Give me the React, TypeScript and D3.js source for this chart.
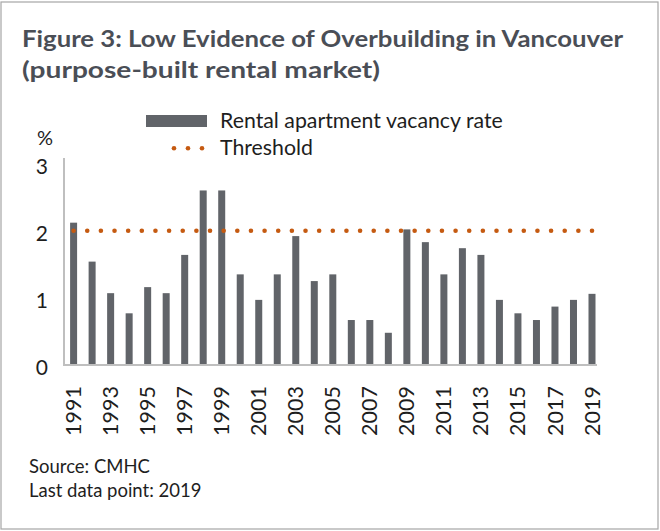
import React from 'react';
import * as d3 from 'd3';

const years = [
  1991, 1992, 1993, 1994, 1995, 1996, 1997, 1998, 1999, 2000,
  2001, 2002, 2003, 2004, 2005, 2006, 2007, 2008, 2009, 2010,
  2011, 2012, 2013, 2014, 2015, 2016, 2017, 2018, 2019,
];
// vacancy rate, %
const vacancy = [
  2.12, 1.54, 1.07, 0.77, 1.16, 1.07, 1.64, 2.6, 2.6, 1.35,
  0.97, 1.35, 1.92, 1.25, 1.35, 0.67, 0.67, 0.48, 2.02, 1.83,
  1.35, 1.74, 1.64, 0.97, 0.77, 0.67, 0.87, 0.97, 1.06,
];
const threshold = 2;
const yTicks = [0, 1, 2, 3];
const xLabelYears = years.filter((y, i) => i % 2 === 0);

const W = 660;
const H = 531;
const FONT = 'Lato, "Open Sans", sans-serif';
const BAR = '#616469';
const AXIS = '#BFBFBF';
const DOT = '#C55A11';
const TEXT = '#1e1e1e';

const App = () => {
  const x = d3.scalePoint<number>().domain(years).range([73.6, 592]);
  const y = d3.scaleLinear().domain([0, 3]).range([365, 163.6]);
  const barW = 7;

  const x0 = x(years[0]) as number;
  const x1 = x(years[years.length - 1]) as number;
  const nDots = 39;
  const gap = (x1 - x0) / (nDots - 1);

  return (
    <svg width={W} height={H} style={{ position: 'absolute', left: 0, top: 0, background: '#fff' }}>
      <rect x={1} y={2} width={657} height={527} fill="#fff" stroke="#A6A6A6" strokeWidth={1.2} />

      {/* title */}
      <g fill="#4A4E56" fontFamily={FONT} fontWeight={700} fontSize={23}>
        <text x={22} y={47} textLength={601} lengthAdjust="spacingAndGlyphs">Figure 3: Low Evidence of Overbuilding in Vancouver</text>
        <text x={22} y={78} textLength={358} lengthAdjust="spacingAndGlyphs">(purpose-built rental market)</text>
      </g>

      {/* legend */}
      <rect x={146} y={115} width={61} height={12} fill={BAR} />
      <text x={220} y={127.5} fontFamily={FONT} fontSize={21.3} fill={TEXT}>Rental apartment vacancy rate</text>
      {[0, 1, 2].map(i => (
        <circle key={i} cx={174 + i * 14} cy={148.3} r={2.3} fill={DOT} />
      ))}
      <text x={220} y={155} fontFamily={FONT} fontSize={21.3} fill={TEXT}>Threshold</text>

      {/* y axis */}
      <text x={37} y={145} fontFamily={FONT} fontSize={20} fill={TEXT}>%</text>
      {yTicks.map(t => (
        <text key={t} x={48} y={y(t) + 3} dy="0.35em" textAnchor="end"
          fontFamily={FONT} fontSize={21} fill={TEXT}>{t}</text>
      ))}
      <line x1={64} x2={64} y1={158} y2={365} stroke={AXIS} strokeWidth={2} />

      {/* bars */}
      {years.map((yr, i) => (
        <rect key={yr} x={(x(yr) as number) - barW / 2} y={y(vacancy[i])}
          width={barW} height={y(0) - y(vacancy[i])} fill={BAR} />
      ))}
      <line x1={63} x2={597} y1={365} y2={365} stroke={AXIS} strokeWidth={2} />

      {/* threshold line */}
      <line x1={x0} x2={x1} y1={y(threshold)} y2={y(threshold)}
        stroke={DOT} strokeWidth={4.6} strokeLinecap="round"
        strokeDasharray={`0 ${gap}`} />

      {/* x labels */}
      {xLabelYears.map(yr => (
        <text key={yr} transform={`translate(${(x(yr) as number)},386) rotate(-90)`}
          textAnchor="end" dy="0.35em" fontFamily={FONT} fontSize={21.5} fill={TEXT}>{yr}</text>
      ))}

      {/* footnotes */}
      <g fontFamily={FONT} fontSize={18.5} fill={TEXT}>
        <text x={29} y={473}>Source: CMHC</text>
        <text x={29} y={496.5}>Last data point: 2019</text>
      </g>
    </svg>
  );
};

export default App;
